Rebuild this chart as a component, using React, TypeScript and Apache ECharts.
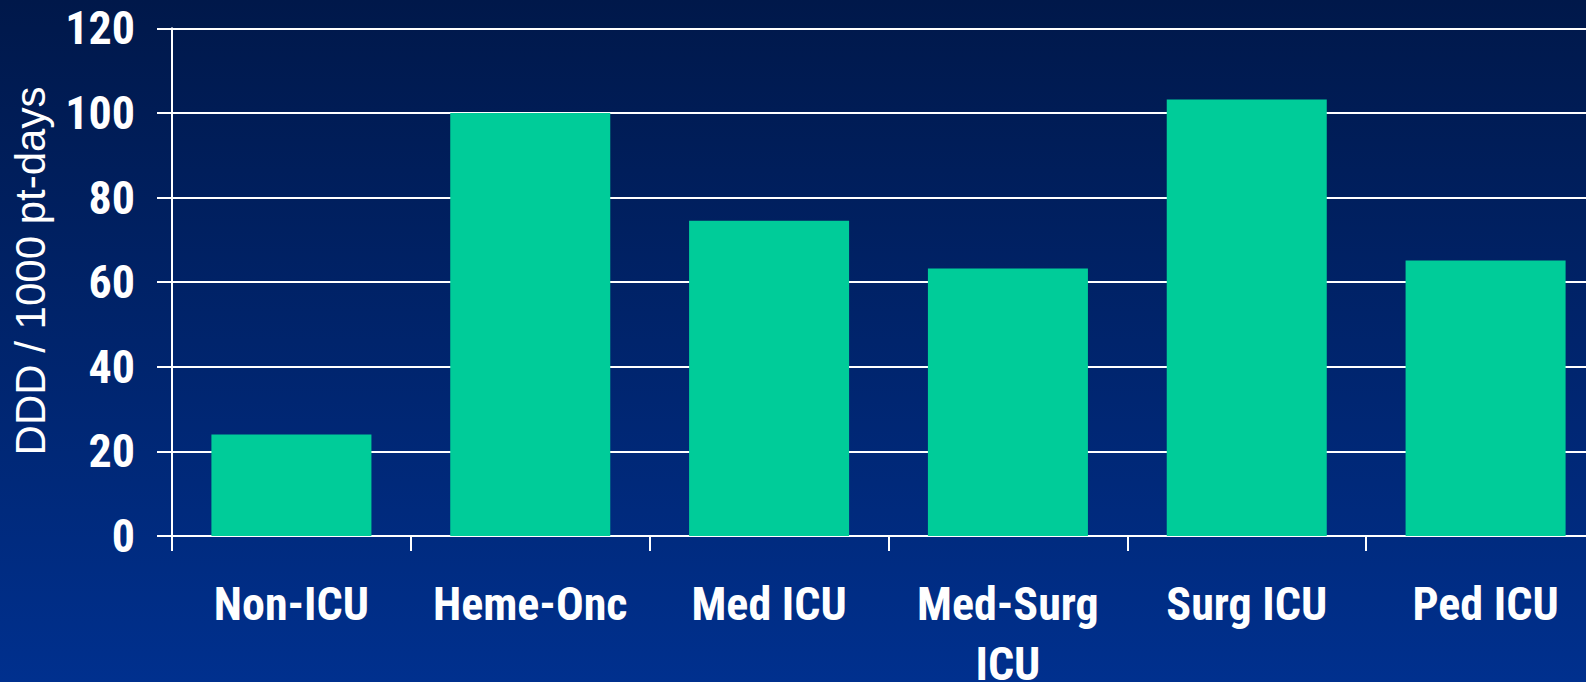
import React, { useEffect, useRef } from "react";
import * as echarts from "echarts";

const categories = ["Non-ICU", "Heme-Onc", "Med ICU", "Med-Surg\nICU", "Surg ICU", "Ped ICU"];
const values = [24, 100, 74.5, 63.2, 103.2, 65.1];
const yTicks = { min: 0, max: 120, interval: 20 };
const yTitle = "DDD / 1000 pt-days";

const NARROW = "'Liberation Sans Narrow', 'Arial Narrow', 'Roboto Condensed', sans-serif";
const REGULAR = "'Liberation Sans', Arial, sans-serif";

export default function App() {
  const ref = useRef<HTMLDivElement>(null);
  useEffect(() => {
    if (!ref.current) return;
    const chart = echarts.init(ref.current, null, { renderer: "svg" });
    chart.setOption({
      animation: false,
      backgroundColor: {
        type: "linear",
        x: 0, y: 0, x2: 0, y2: 1,
        colorStops: [
          { offset: 0, color: "#00184a" },
          { offset: 0.5, color: "#00246c" },
          { offset: 1, color: "#00308e" },
        ],
      },
      grid: {
        left: 172,
        right: -19,
        top: 28.3,
        bottom: 146,
        containLabel: false,
        outerBoundsMode: "none",
      },
      xAxis: {
        type: "category",
        data: categories,
        axisLine: { show: true, lineStyle: { color: "#ffffff", width: 2 } },
        axisTick: { show: true, length: 15, alignWithLabel: false, lineStyle: { color: "#ffffff", width: 2 } },
        axisLabel: {
          interval: 0,
          color: "#ffffff",
          fontFamily: NARROW,
          fontWeight: "bold",
          fontSize: 46,
          lineHeight: 60,
          margin: 38,
          hideOverlap: false,
        },
        splitLine: { show: false },
      },
      yAxis: {
        type: "value",
        min: yTicks.min,
        max: yTicks.max,
        interval: yTicks.interval,
        axisLine: { show: true, lineStyle: { color: "#ffffff", width: 2 } },
        axisTick: { show: true, length: 15, lineStyle: { color: "#ffffff", width: 2 } },
        axisLabel: {
          color: "#ffffff",
          fontFamily: NARROW,
          fontWeight: "bold",
          fontSize: 46,
          margin: 37,
        },
        splitLine: { show: true, lineStyle: { color: "#ffffff", width: 2 } },
      },
      graphic: [
        {
          type: "text",
          x: 30,
          y: 271,
          rotation: Math.PI / 2,
          style: {
            text: yTitle,
            fill: "#ffffff",
            fontFamily: REGULAR,
            fontSize: 42,
            align: "center",
            verticalAlign: "middle",
          },
        },
      ],
      series: [
        {
          type: "bar",
          data: values,
          barCategoryGap: "33%",
          itemStyle: { color: "#00cc99" },
        },
      ],
    });
    return () => chart.dispose();
  }, []);
  return (
    <div
      ref={ref}
      style={{ position: "fixed", left: 0, top: 0, width: 1586, height: 682 }}
    />
  );
}
